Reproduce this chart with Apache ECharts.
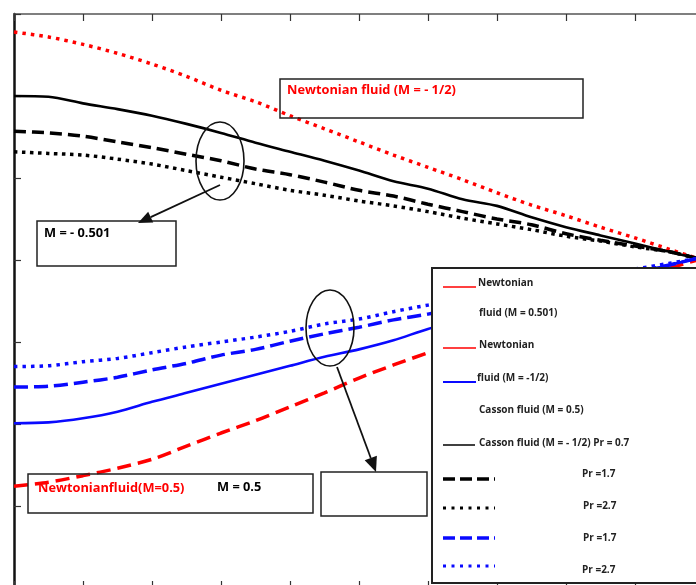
<!DOCTYPE html>
<html>
<head>
<meta charset="utf-8">
<script src="https://cdn.jsdelivr.net/npm/echarts@6/dist/echarts.min.js"></script>
<style>
  html, body { margin: 0; padding: 0; background: #fff; }
  #chart { width: 696px; height: 585px; }
</style>
</head>
<body>
<div id="chart"></div>
<script>
// Similarity variable along the plate
const eta = [0, 0.5, 1, 1.5, 2, 2.5, 3, 3.5, 4, 4.5, 5, 5.5, 6, 6.5, 7, 7.5, 8, 8.5, 9, 9.5, 9.9];

// Newtonian fluid, M = -1/2
const newtonianMinusHalf = [2.78, 2.72, 2.63, 2.52, 2.39, 2.24, 2.07, 1.93, 1.76, 1.60, 1.44, 1.28, 1.13, 0.98, 0.82, 0.67, 0.54, 0.40, 0.27, 0.13, 0.02];
// Newtonian fluid, M = 0.5
const newtonianHalf = [-2.76, -2.71, -2.63, -2.54, -2.43, -2.27, -2.11, -1.96, -1.79, -1.62, -1.44, -1.28, -1.13, -0.98, -0.82, -0.66, -0.50, -0.35, -0.22, -0.10, 0.00];

// Casson fluid, M = -1/2, Pr = 0.7 / 1.7 / 2.7
const cassonMinusPr07 = [2.00, 1.99, 1.91, 1.84, 1.76, 1.66, 1.55, 1.43, 1.32, 1.21, 1.09, 0.96, 0.87, 0.74, 0.66, 0.52, 0.40, 0.30, 0.20, 0.10, 0.02];
const cassonMinusPr17 = [1.57, 1.55, 1.51, 1.44, 1.37, 1.29, 1.21, 1.11, 1.04, 0.95, 0.85, 0.78, 0.68, 0.59, 0.50, 0.43, 0.32, 0.24, 0.17, 0.10, 0.02];
const cassonMinusPr27 = [1.32, 1.30, 1.28, 1.23, 1.17, 1.09, 1.01, 0.93, 0.85, 0.79, 0.72, 0.66, 0.59, 0.51, 0.44, 0.37, 0.29, 0.23, 0.16, 0.10, 0.02];

// Casson fluid, M = 0.5, Pr = 0.7 / 1.7 / 2.7
const cassonPlusPr07 = [-1.99, -1.98, -1.93, -1.85, -1.73, -1.62, -1.51, -1.40, -1.29, -1.18, -1.09, -0.98, -0.84, -0.73, -0.61, -0.49, -0.37, -0.26, -0.15, -0.06, 0.02];
const cassonPlusPr17 = [-1.55, -1.54, -1.49, -1.43, -1.34, -1.26, -1.16, -1.09, -0.99, -0.90, -0.82, -0.73, -0.66, -0.57, -0.49, -0.40, -0.32, -0.23, -0.15, -0.06, 0.02];
const cassonPlusPr27 = [-1.30, -1.29, -1.24, -1.20, -1.13, -1.06, -1.00, -0.94, -0.87, -0.78, -0.72, -0.63, -0.55, -0.48, -0.40, -0.33, -0.26, -0.18, -0.11, -0.04, 0.02];

// Axis ranges (no tick labels are printed)
const xMin = 0, xMax = 10, xStep = 1;
const yMin = -4, yMax = 3, yStep = 1;

const RED = '#ff0000', BLUE = '#0a0aff', BLACK = '#000000';
const FONT = '"Open Sans", Lato, sans-serif';

function pairs(ys) { return eta.map((x, i) => [x, ys[i]]); }

function curve(name, ys, color, width, dash) {
  return {
    name, type: 'line', data: pairs(ys), smooth: 0.3,
    showSymbol: false, symbol: 'none', silent: true,
    lineStyle: { color, width, type: dash || 'solid', cap: 'butt' },
    z: 2
  };
}

// --- annotation helpers (drawn on top of the plot) ---
function rect(x, y, w, h, fill, lw) {
  return { type: 'rect', shape: { x, y, width: w, height: h }, z: 50,
    style: { fill: fill || 'none', stroke: '#222', lineWidth: lw || 1.5 } };
}
function label(text, x, y, color, size) {
  return { type: 'text', x, y, z: 60,
    style: { text, fill: color, font: 'bold ' + size + 'px ' + FONT, textVerticalAlign: 'middle' } };
}
function ellipse(cx, cy, rx, ry) {
  return { type: 'ellipse', shape: { cx, cy, rx, ry }, z: 55,
    style: { fill: 'none', stroke: '#111', lineWidth: 1.6 } };
}
function arrow(x1, y1, x2, y2, headLen, headHalf) {
  const dx = x2 - x1, dy = y2 - y1, L = Math.hypot(dx, dy);
  const ux = dx / L, uy = dy / L, nx = -uy, ny = ux;
  const bx = x2 - ux * headLen, by = y2 - uy * headLen;
  return [
    { type: 'line', z: 55, shape: { x1, y1, x2: bx, y2: by },
      style: { stroke: '#111', lineWidth: 1.8 } },
    { type: 'polygon', z: 55,
      shape: { points: [[x2, y2], [bx + nx * headHalf, by + ny * headHalf], [bx - nx * headHalf, by - ny * headHalf]] },
      style: { fill: '#111' } }
  ];
}
function sample(x1, x2, y, color, width, dash) {
  return { type: 'line', z: 60, shape: { x1, y1: y, x2, y2: y },
    style: { stroke: color, lineWidth: width, lineDash: dash || null } };
}

const chart = echarts.init(document.getElementById('chart'), null, { renderer: 'canvas' });

const tickStyle = { show: true, inside: true, length: 7, lineStyle: { color: '#333', width: 1.2 } };

chart.setOption({
  animation: false,
  backgroundColor: '#ffffff',
  // the frame runs a little past the right and bottom edges of the page
  grid: { left: 14, top: 14, width: 690, height: 574, containLabel: false, outerBoundsMode: 'none' },
  xAxis: [
    { type: 'value', min: xMin, max: xMax, interval: xStep, position: 'bottom',
      axisLine: { show: false, onZero: false },
      axisTick: tickStyle, axisLabel: { show: false }, splitLine: { show: false } },
    { type: 'value', min: xMin, max: xMax, interval: xStep, position: 'top',
      axisLine: { show: true, onZero: false, lineStyle: { color: '#555', width: 1.5 } },
      axisTick: tickStyle, axisLabel: { show: false }, splitLine: { show: false } }
  ],
  yAxis: [
    { type: 'value', min: yMin, max: yMax, interval: yStep, position: 'left',
      axisLine: { show: true, onZero: false, lineStyle: { color: '#111', width: 2.5 } },
      axisTick: tickStyle, axisLabel: { show: false }, splitLine: { show: false } }
  ],
  series: [
    curve('Newtonian fluid (M = -1/2)', newtonianMinusHalf, RED, 3.5, [3.5, 5]),
    curve('Newtonian fluid (M = 0.5)', newtonianHalf, RED, 3.5, [14, 7]),
    curve('Casson fluid (M = -1/2) Pr = 0.7', cassonMinusPr07, BLACK, 2.6),
    curve('Casson fluid (M = -1/2) Pr = 1.7', cassonMinusPr17, BLACK, 3.5, [12, 6]),
    curve('Casson fluid (M = -1/2) Pr = 2.7', cassonMinusPr27, BLACK, 3.5, [3.5, 4.5]),
    curve('Casson fluid (M = 0.5) Pr = 0.7', cassonPlusPr07, BLUE, 2.6),
    curve('Casson fluid (M = 0.5) Pr = 1.7', cassonPlusPr17, BLUE, 3.5, [14, 6]),
    curve('Casson fluid (M = 0.5) Pr = 2.7', cassonPlusPr27, BLUE, 3.5, [3.5, 5])
  ],
  graphic: [
    // callout boxes
    rect(280, 79, 303, 39),
    label('Newtonian fluid (M = - 1/2)', 287, 90, RED, 12.8),
    rect(37, 221, 139, 45),
    label('M = - 0.501', 44, 233, BLACK, 12.8),
    rect(28, 474, 285, 39),
    label('Newtonianfluid(M=0.5)', 38, 488, RED, 12.8),
    label('M = 0.5', 217, 487, BLACK, 12.8),
    rect(321, 472, 106, 44),
    // ellipses and arrows
    ellipse(220, 161, 24, 39),
    ...arrow(220, 185, 138, 223, 14, 6),
    ellipse(330, 328, 24, 38),
    ...arrow(337, 367, 376, 472, 15, 6.5),
    // key panel
    rect(432, 268, 290, 315, '#ffffff', 2),
    sample(443, 476, 287, RED, 1.5),
    label('Newtonian', 478, 283, '#222', 10),
    label('fluid (M = 0.501)', 479, 313, '#222', 10),
    sample(443, 476, 348, RED, 1.5),
    label('Newtonian', 479, 345, '#222', 10),
    sample(443, 476, 382, BLUE, 2),
    label('fluid (M = -1/2)', 477, 378, '#222', 10),
    label('Casson fluid (M = 0.5)', 479, 410, '#222', 10),
    sample(443, 475, 445, BLACK, 1.5),
    label('Casson fluid (M = - 1/2) Pr = 0.7', 479, 443, '#222', 10),
    sample(443, 495, 479, BLACK, 3.5, [12, 5]),
    label('Pr =1.7', 582, 474, '#222', 10),
    sample(443, 495, 508, BLACK, 3, [3, 5.5]),
    label('Pr =2.7', 583, 506, '#222', 10),
    sample(443, 495, 538, BLUE, 3.5, [12, 5]),
    label('Pr =1.7', 583, 538, '#222', 10),
    sample(443, 495, 566, BLUE, 3, [3, 5.5]),
    label('Pr =2.7', 582, 570, '#222', 10)
  ]
});
</script>
</body>
</html>
